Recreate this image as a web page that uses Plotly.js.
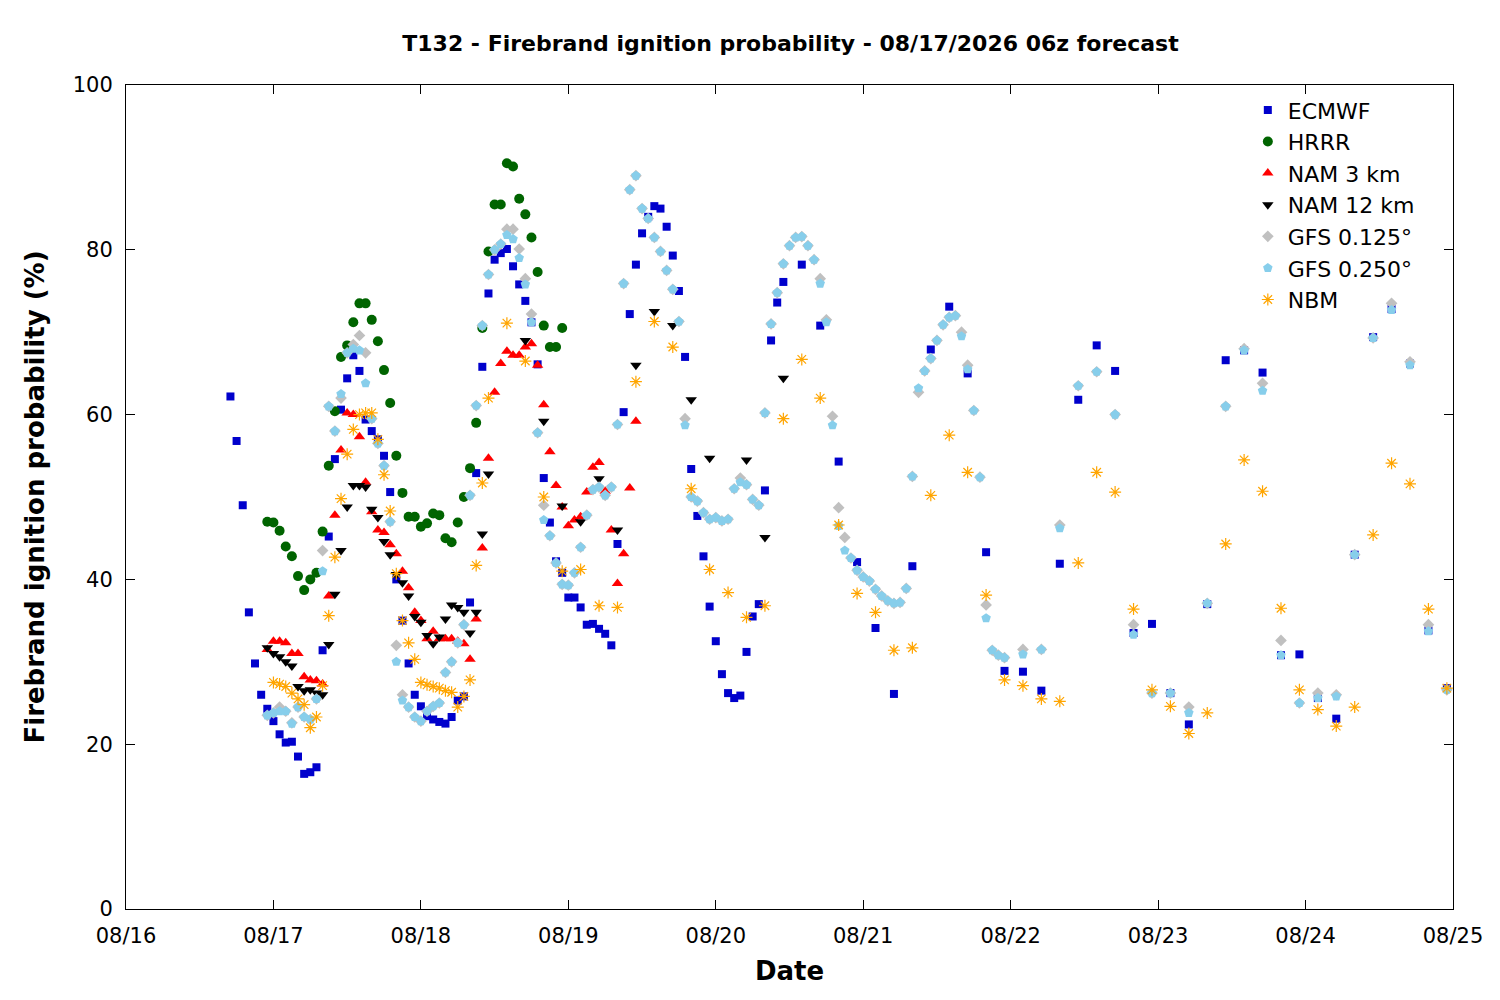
<!DOCTYPE html>
<html>
<head>
<meta charset="utf-8">
<script src="https://cdn.plot.ly/plotly-3.0.1.min.js"></script>
<style>body{margin:0;background:#fff}#chart{width:1500px;height:1000px}</style>
</head>
<body>
<div id="chart"></div>
<script>
// forecast hours counted from 08/16 00z
function hrs(a, b, step) { const out = []; for (let h = a; h <= b; h += step) out.push(h); return out; }

const ECMWF_H = hrs(17, 107, 1).concat(hrs(110, 215, 3));
const ECMWF = [62.2, 56.8, 49, 36, 29.8, 26, 24.3, 22.8, 21.2, 20.2, 20.3, 18.5, 16.4, 16.6, 17.2, 31.4, 45.2, 54.6, 60.6, 64.4,
  67.2, 65.3, 59.4, 58, 57, 55, 50.6, 40, 35, 29.8, 26, 24.6, 23.4, 23, 22.7, 22.5, 23.3, 25.3, 25.8, 37.2,
  52.9, 65.8, 74.7, 78.8, 79.6, 80.1, 78, 75.8, 73.8, 71.2, 66.1, 52.3, 46.9, 42.2, 40.8, 37.8, 37.8, 36.6, 34.5, 34.6,
  34.0, 33.4, 32, 44.3, 60.3, 72.2, 78.2, 82, 84, 85.3, 85, 82.8, 79.3, 75, 67, 53.4, 47.7, 42.8, 36.7, 32.5,
  28.5, 26.2, 25.6, 25.9, 31.2, 35.5, 37, 50.8, 69, 73.6, 76.1,
  78.2, 70.8, 54.3, 42.1, 34.1, 26.1, 41.6, 67.9, 73.1, 65, 43.3, 28.9, 28.8, 26.5, 41.9, 61.8, 68.4, 65.3,
  33.5, 34.6, 26.2, 22.4, 37, 66.6, 67.8, 65.1, 30.8, 30.9, 25.6, 23.1, 43, 69.4, 72.8, 66.2, 33.8, 26.8];

const HRRR_H = hrs(23, 71, 1);
const HRRR = [47, 46.9, 45.9, 44, 42.8, 40.4, 38.7, 40, 40.8, 45.8, 53.8, 60.4, 67, 68.4, 71.2, 73.5, 73.5, 71.5, 68.9, 65.4,
  61.4, 55, 50.5, 47.6, 47.6, 46.4, 46.8, 48, 47.8, 45, 44.5, 46.9, 50, 53.5, 59, 70.5, 79.8, 85.5, 85.5, 90.5,
  90.1, 86.2, 84.3, 81.5, 77.3, 70.8, 68.2, 68.2, 70.5];

const NAM3_H = hrs(23, 83, 1);
const NAM3 = [31.5, 32.5, 32.5, 32.3, 31, 31, 28.2, 27.8, 27.7, 27.3, 38, 47.8, 55.7, 60.2, 60, 57.3, 51.8, 48.2, 46, 45.7,
  44.2, 43.1, 41, 39, 36, 35, 32.8, 33.7, 32.8, 32.8, 32.8, 32.5, 32.2, 30.3, 35.2, 43.8, 54.7, 62.7, 66.2, 67.7,
  67.2, 67.2, 68.2, 68.6, 66, 61.2, 55.5, 51.4, 48.8, 46.5, 47.2, 47.6, 50.6, 53.6, 54.2, 50.7, 46, 39.5, 43.1, 51.1, 59.2];

const NAM12_H = hrs(23, 59, 1).concat([65, 68, 71, 74, 77, 80, 83, 86, 89, 92, 95, 101, 104, 107]);
const NAM12 = [31.7, 31, 30.6, 30, 29.5, 27, 26.5, 26.6, 26.2, 26, 32.1, 38.2, 43.5, 48.8, 51.4, 51.4, 51.2, 48.5, 47.5, 44.6,
  43, 40.6, 39.6, 38, 35.5, 34.8, 33.2, 32.2, 33, 35.2, 36.9, 36.6, 36, 33.5, 36, 45.5, 52.8,
  69, 59.2, 48.9, 47, 52.2, 46, 66, 72.5, 70.8, 61.8, 54.7, 54.5, 45.1, 64.4];

const GFS_H = hrs(23, 143, 1).concat(hrs(146, 215, 3));
const GFS025 = [23.5, 23.8, 24, 24, 22.5, 24.5, 23.3, 23, 25.5, 41, 61, 58, 62.5, 67.5, 68, 67.8, 63.8, 59.5, 56.5, 53.8,
  47, 30, 25.3, 24.5, 23.3, 22.8, 24, 24.6, 25, 28.7, 30, 32.3, 34.5, 50.2, 61.1, 70.8, 77, 80, 80.7, 81.8,
  81.3, 79, 75.8, 71.2, 57.8, 47.2, 45.3, 42, 39.4, 39.3, 40.8, 43.9, 47.8, 50.9, 51.2, 50.2, 51.2, 58.8, 75.9, 87.3,
  89, 85, 83.8, 81.5, 79.8, 77.5, 75.2, 71.3, 58.7, 50, 49.5, 48.1, 47.3, 47.5, 47.1, 47.3, 51, 51.8, 51.5, 49.7,
  49, 60.2, 71, 74.8, 78.3, 80.5, 81.5, 81.6, 80.5, 78.8, 75.9, 71.2, 58.7, 46.5, 43.5, 42.6, 41.1, 40.3, 39.8, 38.8,
  38, 37.4, 37.1, 37.2, 38.9, 52.5, 63.2, 65.3, 66.8, 69, 70.9, 71.8, 72, 69.5, 65.5, 60.5, 52.4, 35.3, 31.4, 30.8, 30.5,
  30.9, 31.5, 46.2, 63.5, 65.2, 60, 33.3, 26.2, 26.2, 23.8, 37.1, 61, 67.8, 62.9, 30.8, 25, 25.6, 25.8, 43, 69.3, 72.7, 66, 33.7, 26.6];
const GFS0125 = [23.5, 23.8, 24.5, 24, 22.6, 24.5, 23.3, 23, 25.5, 43.5, 61, 58, 62, 67.5, 68.5, 69.6, 67.5, 59.5, 56.5, 53.8,
  47, 32, 26, 24.5, 23.3, 22.8, 24, 24.6, 25, 28.7, 30, 32.3, 34.5, 50.2, 61.1, 70.8, 77, 80, 80.7, 82.5,
  82.5, 80.1, 76.5, 72.2, 57.8, 49, 45.3, 42, 39.4, 39.3, 40.8, 43.9, 47.8, 50.9, 51.2, 50.2, 51.2, 58.8, 75.9, 87.3,
  89, 85, 83.8, 81.5, 79.8, 77.5, 75.2, 71.3, 59.5, 50, 49.5, 48.1, 47.3, 47.5, 47.1, 47.3, 51, 52.3, 51.5, 49.7,
  49, 60.2, 71, 74.8, 78.3, 80.5, 81.5, 81.6, 80.5, 78.8, 76.5, 71.5, 59.8, 48.7, 45.1, 42.6, 41.1, 40.3, 39.8, 38.8,
  38, 37.4, 37.1, 37.2, 38.9, 52.5, 62.7, 65.3, 66.8, 69, 70.9, 71.8, 72, 70, 66, 60.5, 52.4, 36.9, 31.4, 30.8, 30.5,
  31.5, 31.5, 46.6, 63.5, 65.2, 60, 34.5, 26.2, 26.2, 24.5, 37.1, 61, 68, 63.8, 32.6, 25, 26.2, 26, 43, 69.3, 73.5, 66.4, 34.5, 26.6];

const NBM_H = hrs(24, 59, 1).concat(hrs(62, 215, 3));
const NBM = [27.5, 27.3, 27, 26.2, 25.5, 24.8, 22, 23.3, 27.1, 35.6, 42.7, 49.8, 55.2, 58.2, 60, 60.2, 60.2, 57, 52.7, 48.3,
  40.7, 35, 32.3, 30.3, 27.5, 27.2, 27, 26.8, 26.5, 26.3, 24.5, 25.8, 27.8, 41.7, 51.7, 62,
  71.1, 66.5, 50, 41, 41.2, 36.8, 36.6, 64, 71.3, 68.2, 51, 41.2, 38.4, 35.4, 36.8, 59.5, 66.7, 62, 46.6, 38.3,
  36, 31.4, 31.7, 50.2, 57.5, 53, 38.1, 27.8, 27.1, 25.5, 25.2, 42, 53, 50.6, 36.4, 26.6, 24.6, 21.3, 23.8, 44.3,
  54.5, 50.7, 36.5, 26.6, 24.2, 22.2, 24.5, 45.4, 54.1, 51.6, 36.4, 26.8];

const TICKS = ['08/16', '08/17', '08/18', '08/19', '08/20', '08/21', '08/22', '08/23', '08/24', '08/25'];

function toDate(h) {
  return new Date(Date.UTC(2026, 7, 16) + h * 3600e3).toISOString().slice(0, 19).replace('T', ' ');
}

function series(name, hours, vals, symbol, color, size, extra) {
  return {
    x: hours.map(toDate), y: vals, name: name,
    type: 'scatter', mode: 'markers',
    marker: Object.assign({ symbol: symbol, color: color, size: size }, extra || {}),
  };
}

const traces = [
  series('ECMWF', ECMWF_H, ECMWF, 'square', '#0000cc', 8),
  series('HRRR', HRRR_H, HRRR, 'circle', '#006400', 10),
  series('NAM 3 km', NAM3_H, NAM3, 'triangle-up', '#ff0000', 10),
  series('NAM 12 km', NAM12_H, NAM12, 'triangle-down', '#000000', 10),
  series('GFS 0.125°', GFS_H, GFS0125, 'diamond', '#c0c0c0', 9),
  series('GFS 0.250°', GFS_H, GFS025, 'pentagon', '#87ceeb', 10),
  series('NBM', NBM_H, NBM, 'asterisk-open', '#ffa500', 10, { line: { color: '#ffa500', width: 1.2 } }),
];

const layout = {
  width: 1500, height: 1000,
  paper_bgcolor: '#fff', plot_bgcolor: '#fff',
  font: { family: 'DejaVu Sans, sans-serif', size: 22, color: '#000' },
  margin: { l: 126, r: 47, t: 85, b: 91 },
  title: { text: '<b>T132 - Firebrand ignition probability - 08/17/2026 06z forecast</b>', x: 0.527, y: 0.957, yanchor: 'middle', font: { size: 22 } },
  xaxis: {
    type: 'date', range: [toDate(0), toDate(216)],
    tickvals: TICKS.map((t, i) => toDate(24 * i)), ticktext: TICKS,
    tickfont: { size: 21 }, ticklabelstandoff: 8,
    showline: true, mirror: 'ticks', linecolor: '#000', linewidth: 1,
    ticks: 'inside', ticklen: 9, tickcolor: '#000', showgrid: false, zeroline: false,
    title: { text: '<b>Date</b>', standoff: 14 },
  },
  yaxis: {
    range: [0, 100], tickvals: [0, 20, 40, 60, 80, 100],
    tickfont: { size: 21 }, ticklabelstandoff: 8,
    showline: true, mirror: 'ticks', linecolor: '#000', linewidth: 1,
    ticks: 'inside', ticklen: 9, tickcolor: '#000', showgrid: false, zeroline: false,
    title: { text: '<b>Firebrand ignition probability (%)</b>', standoff: 20 },
  },
  legend: {
    x: 0.975, y: 0.995, xanchor: 'right', yanchor: 'top',
    bgcolor: 'rgba(0,0,0,0)', font: { size: 22 }, tracegroupgap: 0, itemwidth: 30,
  },
  showlegend: true,
};

Plotly.newPlot('chart', traces, layout, { displayModeBar: false, staticPlot: true });
</script>
</body>
</html>
